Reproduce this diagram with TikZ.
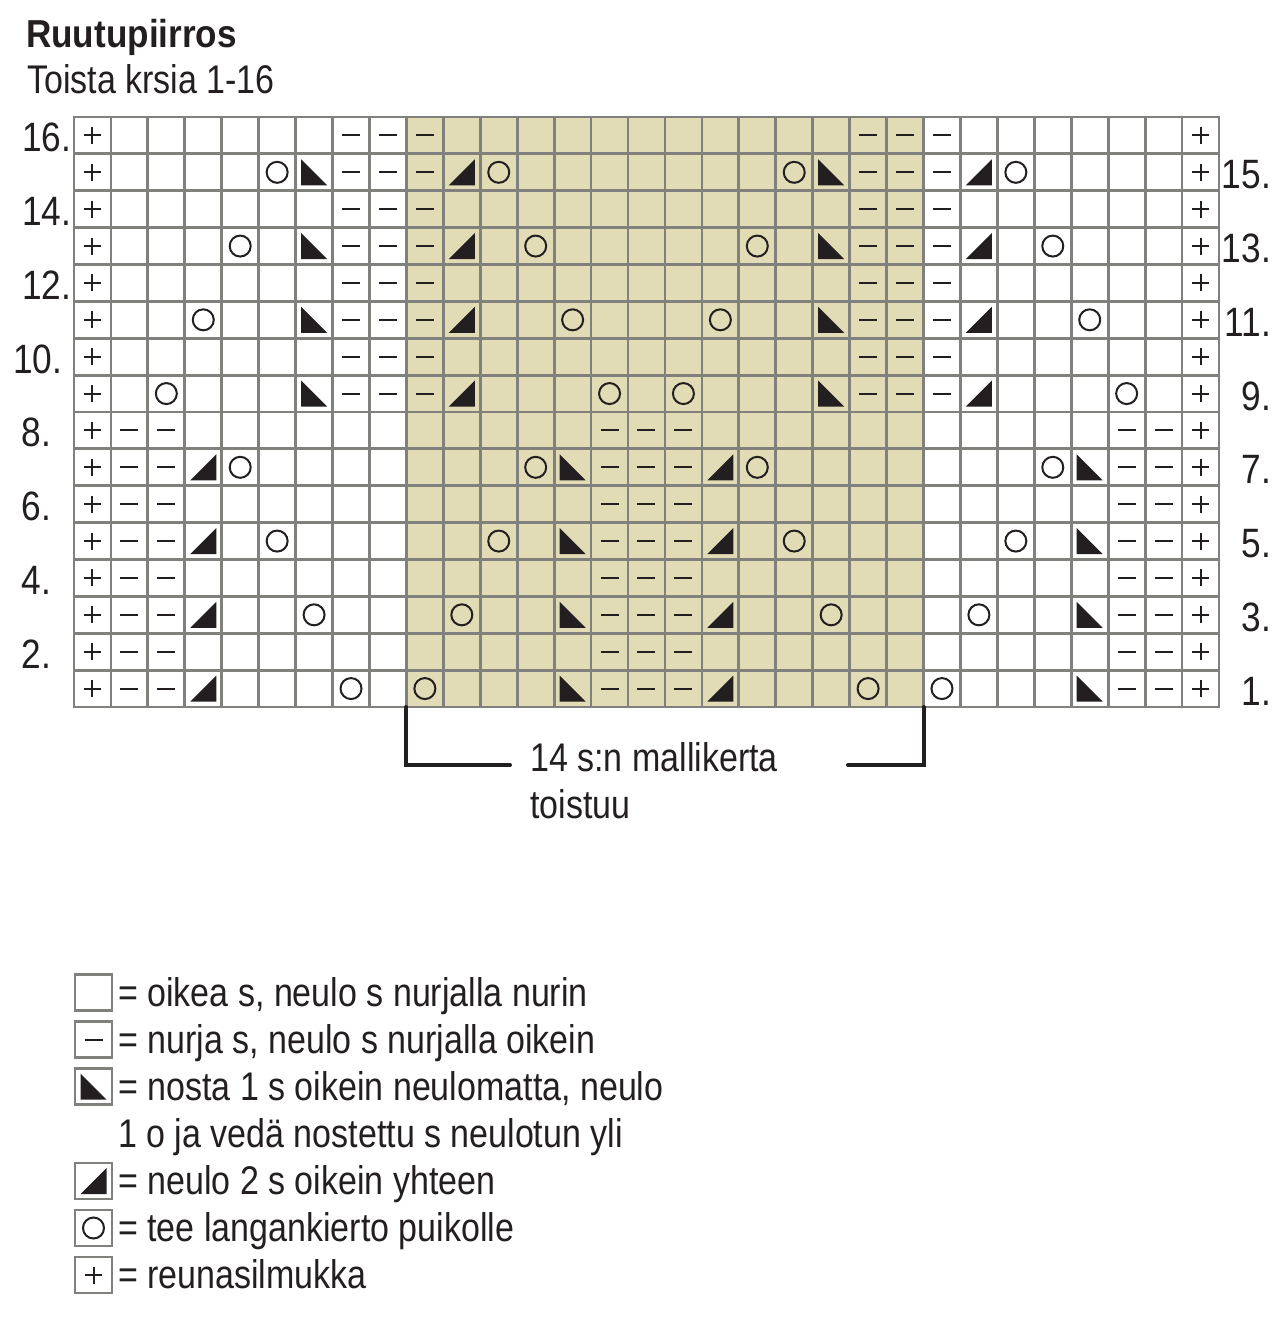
\documentclass[tikz,border=0pt]{standalone}
\usepackage{fontspec}
\setmainfont{Liberation Sans}[FakeStretch=0.85]
\newfontfamily\labfont{Liberation Sans}[FakeStretch=0.86]
\newfontfamily\titlefont{Liberation Sans}[FakeStretch=0.9]
\definecolor{ink}{RGB}{35,31,32}
\definecolor{gridgray}{RGB}{128,128,124}
\definecolor{beige}{RGB}{226,220,182}
\def\cellW{36.935}
\def\cellH{36.875}
\newcommand\stplus{\draw[symline] (-8.5,0)--(8.5,0) (0,-8.5)--(0,8.5);}
\newcommand\stminus{\draw[symline] (-9,0)--(9,0);}
\newcommand\styo{\draw[symline] (0,0) circle[radius=10.5pt];}
\newcommand\stskp{\fill[ink] (-13,-13)--(-13,13)--(13,13)--cycle;}
\newcommand\sttog{\fill[ink] (13,-13)--(13,13)--(-13,13)--cycle;}
\newcommand\stitch[3]{\begin{scope}[shift={({74+(#2-0.5)*\cellW},{117+(16.5-#3)*\cellH})}]\csname st#1\endcsname\end{scope}}
\begin{document}
\begin{tikzpicture}[x=1pt,y=-1pt,
  symline/.style={draw=ink,line width=2pt},
  gridline/.style={draw=gridgray,line width=2.8pt},
  legbox/.style={draw=gridgray,line width=2.5pt},
  bracketline/.style={draw=ink,line width=4pt,line cap=round,line join=miter},
  txt/.style={font=\fontsize{40}{46}\selectfont,text=ink,inner sep=0pt,anchor=base west},
  lab/.style={font=\labfont\fontsize{41}{44}\selectfont,text=ink,inner sep=0pt}]
\useasboundingbox (0,0) rectangle (1280,1331);
\fill[white] (0,0) rectangle (1280,1331);
% title
\node[txt,font=\titlefont\bfseries\fontsize{39}{44}\selectfont] (title) at (26,47) {Ruutupiirros};
\node[txt] (sub) at (27,93) {Toista krsia 1-16};
% shaded repeat
\fill[beige] ({74+9*\cellW},117) rectangle ({74+23*\cellW},707);
% grid
\foreach \i in {0,...,31} \draw[gridline] ({74+\i*\cellW},117) -- ({74+\i*\cellW},707);
\foreach \j in {0,...,16} \draw[gridline] (74,{117+\j*\cellH}) -- ({74+31*\cellW},{117+\j*\cellH});
\draw[gridline,line join=miter] (74,117) rectangle ({74+31*\cellW},707);
% even rows 10-16
\foreach \r in {10,12,14,16}{
  \foreach \c/\t in {1/plus,8/minus,9/minus,10/minus,22/minus,23/minus,24/minus,31/plus} \stitch{\t}{\c}{\r};
}
% even rows 2-8
\foreach \r in {2,4,6,8}{
  \foreach \c/\t in {1/plus,2/minus,3/minus,15/minus,16/minus,17/minus,29/minus,30/minus,31/plus} \stitch{\t}{\c}{\r};
}
% odd rows 9-15
\foreach \r in {9,11,13,15}{
  \foreach \c/\t in {1/plus,7/skp,8/minus,9/minus,10/minus,11/tog,21/skp,22/minus,23/minus,24/minus,25/tog,31/plus} \stitch{\t}{\c}{\r};
}
% odd rows 1-7
\foreach \r in {1,3,5,7}{
  \foreach \c/\t in {1/plus,2/minus,3/minus,4/tog,14/skp,15/minus,16/minus,17/minus,18/tog,28/skp,29/minus,30/minus,31/plus} \stitch{\t}{\c}{\r};
}
% yarn overs
\foreach \r/\a/\b/\c/\d in {15/6/12/20/26,13/5/13/19/27,11/4/14/18/28,9/3/15/17/29,7/5/13/19/27,5/6/12/20/26,3/7/11/21/25,1/8/10/22/24}{
  \stitch{yo}{\a}{\r}\stitch{yo}{\b}{\r}\stitch{yo}{\c}{\r}\stitch{yo}{\d}{\r}
}
% row labels
\foreach \r/\x in {16/22,14/22,12/22,10/13,8/21.5,6/21.5,4/21.5,2/21.5}
  \node[lab,anchor=base west] (l\r) at (\x,{117+(17-\r)*\cellH-2}) {\r.};
\foreach \r in {15,13,11,9,7,5,3,1}
  \node[lab,anchor=base east] (r\r) at (1271,{117+(17-\r)*\cellH-2}) {\r.};
% repeat bracket
\coordinate (bl) at ({74+9*\cellW},707);
\coordinate (br) at ({74+23*\cellW},707);
\draw[bracketline] (bl) -- ++(0,58) -- (510,765);
\draw[bracketline] (br) -- ++(0,58) -- (848,765);
\node[txt] (rep1) at (530,771) {14 s:n mallikerta};
\node[txt] (rep2) at (530,818) {toistuu};
% legend
\foreach \y/\t in {992.5/none,1039.5/minus,1086.5/skp,1181/tog,1228/yo,1275/plus}{
  \draw[legbox] (75,{\y-18}) rectangle (112,{\y+18});
  \begin{scope}[shift={(93.5,\y)}]\csname st\t\endcsname\end{scope}
}
\node[txt] (k1) at (118,1006) {= oikea s, neulo s nurjalla nurin};
\node[txt] (k2) at (118,1053) {= nurja s, neulo s nurjalla oikein};
\node[txt] (k3) at (118,1100) {= nosta 1 s oikein neulomatta, neulo};
\node[txt] (k4) at (118,1147) {1 o ja vedä nostettu s neulotun yli};
\node[txt] (k5) at (118,1194.5) {= neulo 2 s oikein yhteen};
\node[txt] (k6) at (118,1241.5) {= tee langankierto puikolle};
\node[txt] (k7) at (118,1288.5) {= reunasilmukka};
\end{tikzpicture}
\end{document}
